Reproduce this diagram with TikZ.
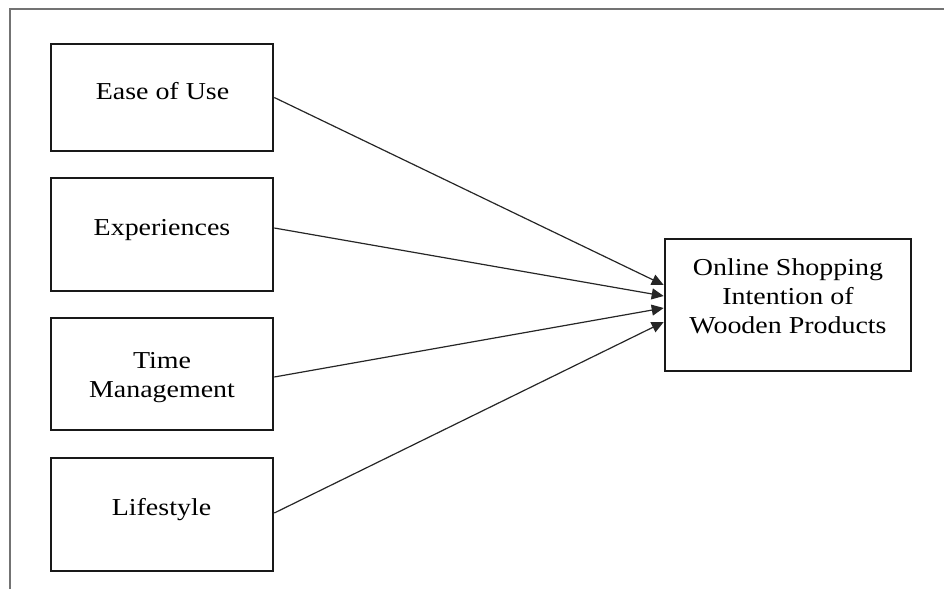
\documentclass[tikz,border=0pt]{standalone}
\usepackage{fontspec}
\setmainfont[FakeStretch=1.15]{Liberation Serif}
\usetikzlibrary{arrows.meta}
\begin{document}
\begin{tikzpicture}[x=1pt,y=-1pt,
  box/.style={draw=black!90,line width=2.6pt,minimum width=222pt,inner sep=0pt},
  lbl/.style={font=\fontsize{24.3}{29}\selectfont,align=center,inner sep=0pt,anchor=base,text=black},
  conn/.style={draw=black!85,line width=1.2pt,-{Triangle[length=12pt,width=11pt]}},
  frame/.style={draw=black!55,line width=2pt}]
\useasboundingbox (0,0) rectangle (944,589);
\draw[frame] (9.5,589) -- (9.5,8.5) -- (944,8.5);
% boxes
\node[box,minimum height=107pt] (b1) at (162,97.5) {};
\node[box,minimum height=113pt] (b2) at (162,234.5) {};
\node[box,minimum height=112pt] (b3) at (162,374) {};
\node[box,minimum height=113pt] (b4) at (162,514.5) {};
\node[box,minimum width=246pt,minimum height=132pt] (out) at (788,305) {};
% labels
\node[lbl] (t1) at (162.5,99) {Ease of Use};
\node[lbl] (t2) at (162,235.7) {Experiences};
\node[lbl] (t3) at (162,397) {Time\\Management};
\node[lbl] (t4) at (161.5,515) {Lifestyle};
\node[lbl] (t5) at (788,333) {Online Shopping\\Intention of\\Wooden Products};
% connectors
\draw[conn] (b1.east) -- ([yshift=20pt]out.west);
\draw[conn] ([yshift=6.5pt]b2.east) -- ([yshift=9pt]out.west);
\draw[conn] ([yshift=-3pt]b3.east) -- ([yshift=-3pt]out.west);
\draw[conn] ([yshift=1.5pt]b4.east) -- ([yshift=-17pt]out.west);
\end{tikzpicture}
\end{document}
